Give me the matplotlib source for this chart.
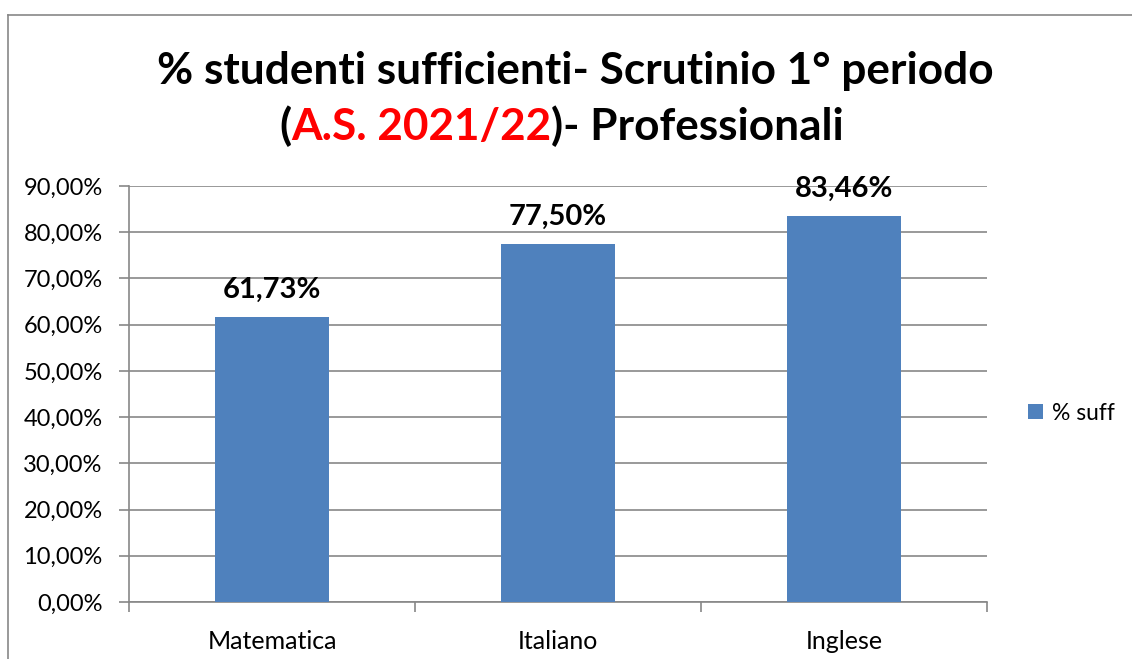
import matplotlib
matplotlib.use("Agg")
import matplotlib.pyplot as plt
from matplotlib.lines import Line2D
from matplotlib.ticker import FuncFormatter, FixedLocator

# dati
materie = ["Matematica", "Italiano", "Inglese"]
perc_suff = [61.73, 77.50, 83.46]
serie = "% suff"

plt.rcParams['font.family'] = ['Lato', 'DejaVu Sans']

blu = "#4F81BD"
grigio = "#878787"

fig = plt.figure(figsize=(11.32, 6.59), dpi=100)

# cornice del grafico (solo sinistra e alto visibili)
fig.add_artist(Line2D([8/1132, 8/1132], [0, 1 - 15/659], color=grigio, lw=1.2))
fig.add_artist(Line2D([8/1132, 1], [1 - 15/659, 1 - 15/659], color=grigio, lw=1.2))

ax = fig.add_axes([129/1132, 1 - 602/659, 858/1132, 416/659])

x = range(len(materie))
vals = [v / 100 for v in perc_suff]
bars = ax.bar(x, vals, width=0.4, color=blu, zorder=3, label=serie)

ax.set_xlim(-0.5, len(materie) - 0.5)
ax.set_ylim(0, 0.9)
ax.set_yticks([i / 10 for i in range(10)])
ax.yaxis.set_major_formatter(FuncFormatter(lambda v, p: f"{v*100:.2f}%".replace(".", ",")))
ax.yaxis.grid(True, color=grigio, lw=1.2, zorder=0)
ax.tick_params(axis='y', length=7, width=1.2, color=grigio, labelsize=17, pad=12)

# tick ai bordi delle categorie, etichette al centro
ax.xaxis.set_major_locator(FixedLocator([i - 0.5 for i in range(len(materie) + 1)]))
ax.xaxis.set_major_formatter(FuncFormatter(lambda v, p: ""))
ax.xaxis.set_minor_locator(FixedLocator(list(x)))
ax.set_xticklabels(materie, minor=True)
ax.tick_params(axis='x', which='major', length=7, width=1.2, color=grigio, direction='out')
ax.tick_params(axis='x', which='minor', length=0, labelsize=18, pad=20)

for s in ["top", "right"]:
    ax.spines[s].set_visible(False)
for s in ["left", "bottom"]:
    ax.spines[s].set_color(grigio)
    ax.spines[s].set_linewidth(1.2)

for b, v in zip(bars, perc_suff):
    ax.annotate(f"{v:.2f}%".replace(".", ","), (b.get_x() + b.get_width() / 2, b.get_height()),
                xytext=(0, 10), textcoords="offset points", ha="center", va="bottom",
                fontsize=21, fontweight="bold")

leg = ax.legend(loc="center left", bbox_to_anchor=(1028/1132, 1 - 413/659), bbox_transform=fig.transFigure,
                frameon=False, fontsize=16.5, handlelength=0.65, handleheight=0.65, handletextpad=0.4,
                borderaxespad=0, borderpad=0)

# titolo su due righe, con parte in rosso
fig.text(0.508, 1 - 84/659, "% studenti sufficienti- Scrutinio 1° periodo", ha="center",
         va="baseline", fontsize=31.8, fontweight="bold")

parti = [("(", "black"), ("A.S. 2021/22", "#FF0000"), (")- Professionali", "black")]
r = fig.canvas.get_renderer()
testi = []
for t, c in parti:
    testi.append(fig.text(0, 1 - 140/659, t, color=c, fontsize=31.8, fontweight="bold", va="baseline"))
larg = [tt.get_window_extent(r).width for tt in testi]
x0 = 0.496 * 1132 - sum(larg) / 2
for tt, w in zip(testi, larg):
    tt.set_x(x0 / 1132)
    x0 += w

fig.savefig("out.png", dpi=100)
